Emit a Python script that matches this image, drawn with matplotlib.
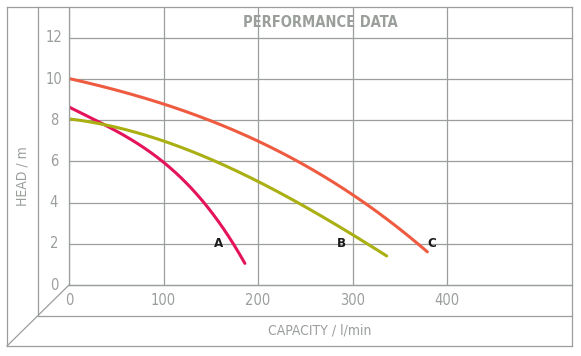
import numpy as np
import matplotlib
matplotlib.use("Agg")
import matplotlib.pyplot as plt
from matplotlib.lines import Line2D

plt.rcParams['font.family'] = ['DejaVu Sans']

# curve data (capacity l/min, head m)
a_flow = [0, 40, 100, 142, 174, 186]
a_head = [8.65, 7.7, 6.0, 4.0, 2.0, 1.05]
b_flow = [0, 40, 100, 200, 234, 300, 336]
b_head = [8.1, 7.7, 7.0, 5.2, 4.0, 2.5, 1.4]
c_flow = [0, 100, 200, 244, 300, 369, 379]
c_head = [10.05, 8.7, 7.1, 6.0, 4.25, 2.0, 1.65]

curve_labels = ['A', 'B', 'C']
label_x = [158, 288, 384]
label_y = [2.0, 2.0, 2.0]

x_ticks = [0, 100, 200, 300, 400]
y_ticks = [0, 2, 4, 6, 8, 10, 12]

grey = '#9a9f9b'
col_a = '#e5145a'
col_b = '#aaaf12'
col_c = '#ef5b40'

W, H = 581, 356
fig = plt.figure(figsize=(W / 100, H / 100), dpi=100)

def fx(px):
    return px / W

def fy(py):
    return 1 - py / H

# back panel (the real axes)
L, T, R, B = 69, 7, 572, 285
ax = fig.add_axes([fx(L), fy(B), fx(R - L), (B - T) / H])
ax.set_xlim(0, 532)
ax.set_ylim(0, 13.5)
for s in ax.spines.values():
    s.set_visible(False)
ax.set_xticks([])
ax.set_yticks([])

for xv in x_ticks:
    ax.axvline(xv, color=grey, lw=0.9, zorder=1)
for yv in y_ticks:
    ax.plot([0, 532], [yv, yv], color=grey, lw=0.9, zorder=1, clip_on=False)

def smooth(xs, ys):
    xs = np.array(xs, float)
    ys = np.array(ys, float)
    t = np.linspace(xs[0], xs[-1], 200)
    coef = np.polyfit(xs, ys, 3)
    return t, np.polyval(coef, t)

for xs, ys, c in [(a_flow, a_head, col_a), (b_flow, b_head, col_b), (c_flow, c_head, col_c)]:
    t, v = smooth(xs, ys)
    ax.plot(t, v, color=c, lw=2.2, solid_capstyle='round', zorder=3)

for lab, lx, ly in zip(curve_labels, label_x, label_y):
    ax.text(lx, ly, lab, color='#1a1a1a', fontsize=9.5, fontweight='bold',
            fontstretch='condensed', ha='center', va='center', zorder=4)

# tick labels
for yv in y_ticks:
    ax.text(-16, yv, str(yv), color=grey, fontsize=10.5, fontstretch='condensed',
            ha='center', va='center')
for xv in x_ticks:
    ax.text(xv, -0.75, str(xv), color=grey, fontsize=10.5, fontstretch='condensed',
            ha='center', va='center')

ax.text(266, 12.75, 'PERFORMANCE DATA', color=grey, fontsize=10.5,
        fontweight='bold', fontstretch='condensed', ha='center', va='center')

# front frame lines in figure pixel coords
frame = [
    [(7, 7), (572, 7)],
    [(7, 7), (7, 346)],
    [(7, 346), (572, 346)],
    [(572, 7), (572, 346)],
    [(38, 7), (38, 316)],
    [(38, 316), (572, 316)],
    [(7, 346), (69, 285)],
    [(69, 7), (69, 285)],
    [(69, 285), (572, 285)],
]
for (x0, y0), (x1, y1) in frame:
    fig.add_artist(Line2D([fx(x0), fx(x1)], [fy(y0), fy(y1)], color=grey, lw=0.9))

fig.text(fx(22), fy(176), 'HEAD / m', color=grey, fontsize=10, rotation=90,
         fontstretch='condensed', ha='center', va='center')
fig.text(fx(320), fy(331), 'CAPACITY / l/min', color=grey, fontsize=10,
         fontstretch='condensed', ha='center', va='center')

fig.savefig('out.png', dpi=100)
